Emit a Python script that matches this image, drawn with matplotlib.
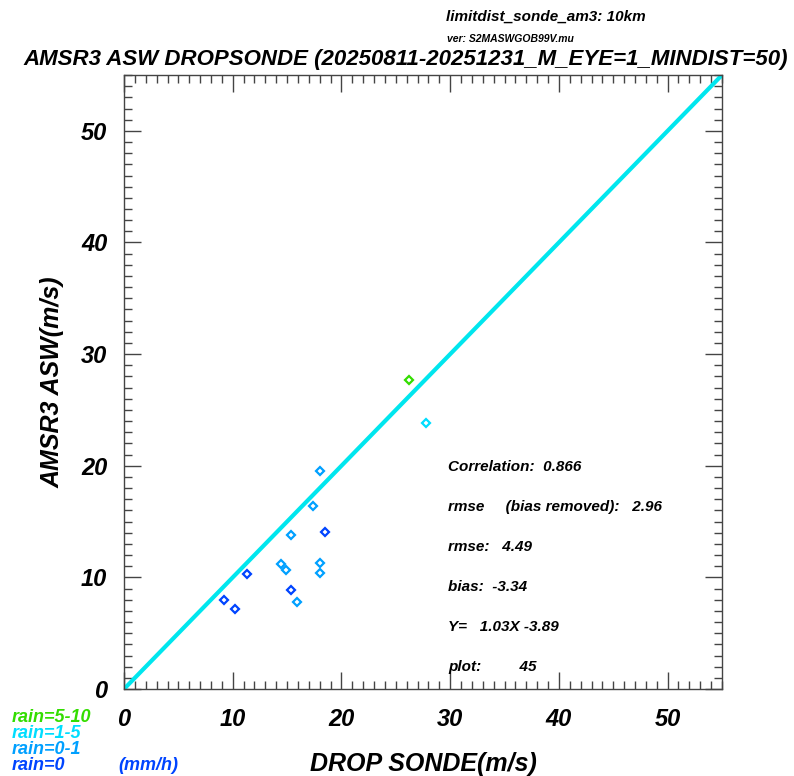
"""Scatter of AMSR3 ASW vs dropsonde wind speed, coloured by rain rate."""

import matplotlib
matplotlib.use("Agg")
import matplotlib.pyplot as plt
from matplotlib.ticker import MultipleLocator

# dropsonde wind (x) vs AMSR3 ASW (y), grouped by rain class
rain_0_x = [18.5, 11.3, 15.4, 9.2, 10.2]
rain_0_y = [14.1, 10.3, 8.9, 8.0, 7.2]
rain_01_x = [18.0, 17.4, 15.4, 14.4, 14.9, 18.0, 18.0, 15.9]
rain_01_y = [19.5, 16.4, 13.8, 11.2, 10.7, 11.3, 10.4, 7.8]
rain_15_x = [27.8]
rain_15_y = [23.8]
rain_510_x = [26.2]
rain_510_y = [27.7]

axis_max = 55
stats_lines = [
    "Correlation:  0.866",
    "rmse     (bias removed):   2.96",
    "rmse:   4.49",
    "bias:  -3.34",
    "Y=   1.03X -3.89",
    "plot:         45",
]
legend_labels = ["rain=5-10", "rain=1-5", "rain=0-1", "rain=0"]

C_GREEN = "#33dd00"
C_CYAN = "#00ddff"
C_LBLUE = "#00a0ff"
C_DBLUE = "#0044ff"
C_LINE = "#00e6ee"

FONT = "Liberation Sans"
plt.rcParams["font.family"] = FONT
plt.rcParams["font.weight"] = "bold"
plt.rcParams["font.style"] = "italic"
plt.rcParams["axes.labelweight"] = "bold"

fig = plt.figure(figsize=(7.94, 7.76), dpi=100)
ax = fig.add_axes([0.1562, 0.1121, 0.7531, 0.7912])

# 1:1 line
ax.plot([0, axis_max], [0, axis_max], color=C_LINE, lw=3, zorder=2)

groups = [
    (rain_0_x, rain_0_y, C_DBLUE),
    (rain_01_x, rain_01_y, C_LBLUE),
    (rain_15_x, rain_15_y, C_CYAN),
    (rain_510_x, rain_510_y, C_GREEN),
]
for xs, ys, c in groups:
    ax.plot(xs, ys, linestyle="none", marker="D", ms=4.5, mfc="none",
            mec=c, mew=1.6, zorder=3)

ax.set_xlim(0, axis_max)
ax.set_ylim(0, axis_max)
ax.xaxis.set_major_locator(MultipleLocator(10))
ax.yaxis.set_major_locator(MultipleLocator(10))
ax.xaxis.set_minor_locator(MultipleLocator(1))
ax.yaxis.set_minor_locator(MultipleLocator(1))
ax.tick_params(which="both", direction="in", top=True, right=True,
               color="#444444", width=1)
ax.tick_params(which="major", length=12)
ax.tick_params(which="minor", length=6)
ax.tick_params(axis="x", which="major", pad=14, labelsize=17)
ax.tick_params(axis="y", which="major", pad=12, labelsize=17)
for sp in ax.spines.values():
    sp.set_color("#444444")
    sp.set_linewidth(1)

fig.canvas.draw()
ylabels = ax.get_yticklabels()
ylabels[0].set_verticalalignment("baseline")

ax.set_xlabel("DROP SONDE(m/s)", fontsize=18, labelpad=15)
ax.set_ylabel("AMSR3 ASW(m/s)", fontsize=18, labelpad=12)

# stats block
for i, line in enumerate(stats_lines):
    fig.text(448 / 794, 1 - (467 + 40 * i) / 776, line, fontsize=11,
             va="center", ha="left")

# titles
fig.text(406 / 794, 1 - 60 / 776,
         "AMSR3 ASW DROPSONDE (20250811-20251231_M_EYE=1_MINDIST=50)",
         fontsize=16, ha="center", va="center")
fig.text(446 / 794, 1 - 17 / 776, "limitdist_sonde_am3: 10km",
         fontsize=11, ha="left", va="center")
fig.text(447 / 794, 1 - 39 / 776, "ver: S2MASWGOB99V.mu",
         fontsize=7.5, ha="left", va="center")

# rain legend
leg_colors = [C_GREEN, C_CYAN, C_LBLUE, C_DBLUE]
for i, (lab, c) in enumerate(zip(legend_labels, leg_colors)):
    fig.text(12 / 794, 1 - (717 + 16 * i) / 776, lab, color=c,
             fontsize=13, ha="left", va="center")
fig.text(118 / 794, 1 - 765 / 776, "(mm/h)", color=C_DBLUE,
         fontsize=13, ha="left", va="center")

fig.savefig("out.png", dpi=100)
